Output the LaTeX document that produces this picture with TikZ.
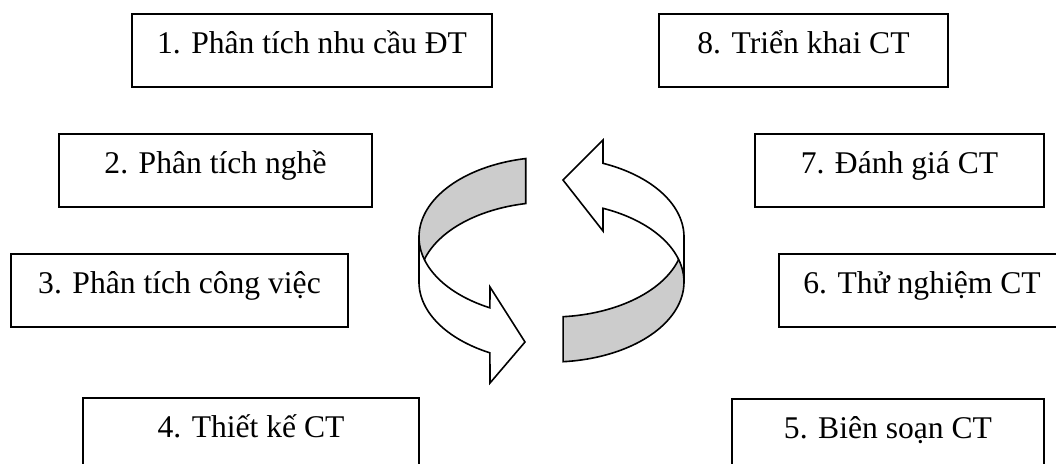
\documentclass[tikz,border=0pt]{standalone}
\usepackage{fontspec}
\setmainfont{Liberation Serif}
\usetikzlibrary{fit,calc}

% ring geometry (pixel-like units, y grows downward)
\def\cx{551.5}
\def\rx{132.5}
\def\ry{80}
\def\yu{237}
\def\yl{282}

\definecolor{ribbongrey}{RGB}{204,204,204}

\tikzset{
  stagebox/.style={draw=black, line width=0.8pt, inner sep=0pt},
  stagetext/.style={anchor=base, inner sep=0pt,
    font=\fontsize{15.8}{19}\selectfont},
  band/.style={draw=black, line width=0.8pt, line join=miter},
}

\begin{document}
\begin{tikzpicture}[x=0.5pt, y=-0.5pt]
\useasboundingbox (0,0) rectangle (1056,463);
\clip (0,0) rectangle (1056,463);

% stage boxes
\node[stagebox, fit={(132,14) (492,87)}]   (b1) {};
\node[stagebox, fit={(659,14) (948,87)}]   (b8) {};
\node[stagebox, fit={(59,134) (372,207)}]  (b2) {};
\node[stagebox, fit={(755,134) (1044,207)}] (b7) {};
\node[stagebox, fit={(11,254) (348,327)}]  (b3) {};
\node[stagebox, fit={(779,254) (1065,327)}] (b6) {};
\node[stagebox, fit={(83,398) (419,490)}]  (b4) {};
\node[stagebox, fit={(732,399) (1044,490)}] (b5) {};

% stage labels
\node[stagetext] (t1) at ($(b1.north)+(0,40)$) {1. Phân tích nhu cầu ĐT};
\node[stagetext] (t8) at ($(b8.north)+(0,40)$) {8. Triển khai CT};
\node[stagetext] (t2) at ($(b2.north)+(0,40)$) {2. Phân tích nghề};
\node[stagetext] (t7) at ($(b7.north)+(0,40)$) {7. Đánh giá CT};
\node[stagetext] (t3) at ($(b3.north)+(0,40)$) {3. Phân tích công việc};
\node[stagetext] (t6) at ($(b6.north)+(0,40)$) {6. Thử nghiệm CT};
\node[stagetext] (t4) at ($(b4.north)+(0,40)$) {4. Thiết kế CT};
\node[stagetext] (t5) at ($(b5.north)+(0,40)$) {5. Biên soạn CT};

% left ribbon arrow: inner side at the back (grey)
\filldraw[band, fill=ribbongrey]
  plot[domain=258.8:180, samples=40, variable=\t] ({\cx+\rx*cos(\t)},{\yu+\ry*sin(\t)})
  -- plot[domain=180:258.8, samples=40, variable=\t] ({\cx+\rx*cos(\t)},{\yl+\ry*sin(\t)})
  -- cycle;
% left ribbon arrow: outer side at the front with its head
\filldraw[band, fill=white]
  plot[domain=180:117.7, samples=40, variable=\t] ({\cx+\rx*cos(\t)},{\yu+\ry*sin(\t)})
  -- (490,287) -- (525,342) -- (490,383)
  -- plot[domain=117.7:180, samples=40, variable=\t] ({\cx+\rx*cos(\t)},{\yl+\ry*sin(\t)})
  -- cycle;

% right ribbon arrow: inner side at the front (grey)
\filldraw[band, fill=ribbongrey]
  plot[domain=85:0, samples=40, variable=\t] ({\cx+\rx*cos(\t)},{\yu+\ry*sin(\t)})
  -- plot[domain=0:85, samples=40, variable=\t] ({\cx+\rx*cos(\t)},{\yl+\ry*sin(\t)})
  -- cycle;
% right ribbon arrow: outer side at the back with its head
\filldraw[band, fill=white]
  plot[domain=360:292.87, samples=40, variable=\t] ({\cx+\rx*cos(\t)},{\yu+\ry*sin(\t)})
  -- (603,140) -- (563,180) -- (603,231)
  -- plot[domain=292.87:360, samples=40, variable=\t] ({\cx+\rx*cos(\t)},{\yl+\ry*sin(\t)})
  -- cycle;
\end{tikzpicture}
\end{document}
